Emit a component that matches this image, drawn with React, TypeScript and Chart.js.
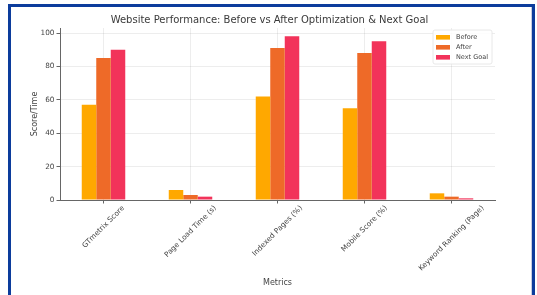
import React, { useEffect, useRef } from 'react';
import { Chart, registerables } from 'chart.js';

Chart.register(...registerables);

const categories = [
  'GTmetrix Score',
  'Page Load Time (s)',
  'Indexed Pages (%)',
  'Mobile Score (%)',
  'Keyword Ranking (Page)',
];
const beforeValues = [57, 6, 62, 55, 4];
const afterValues = [85, 3, 91, 88, 2];
const nextGoalValues = [90, 2, 98, 95, 1];
const seriesNames = ['Before', 'After', 'Next Goal'];
const seriesColors = ['#FFA800', '#EE6A28', '#F2335A'];
const yTickValues = [0, 20, 40, 60, 80, 100];
const titleText = 'Website Performance: Before vs After Optimization & Next Goal';
const yTitle = 'Score/Time';
const xTitle = 'Metrics';

const FONT = '"DejaVu Sans", sans-serif';

const overlayPlugin = {
  id: 'overlay',
  afterDraw(chart: any) {
    const ctx = chart.ctx as CanvasRenderingContext2D;
    const area = chart.chartArea;
    const xs = chart.scales.x;
    ctx.save();
    // title
    ctx.font = `10px ${FONT}`;
    ctx.fillStyle = '#3a3a3a';
    ctx.textAlign = 'center';
    ctx.textBaseline = 'middle';
    ctx.fillText(titleText, (area.left + area.right) / 2 - 8, area.top - 8);

    // rotated x tick labels (centered on tick like matplotlib)
    ctx.font = `7.3px ${FONT}`;
    ctx.fillStyle = '#444';
    (chart.data.labels as string[]).forEach((lab, i) => {
      const x = xs.getPixelForTick(i);
      const w = ctx.measureText(lab).width;
      const h = 8.5;
      const bh = (w + h) * Math.SQRT1_2;
      ctx.save();
      ctx.translate(x, area.bottom + 4 + bh / 2);
      ctx.rotate(-Math.PI / 4);
      ctx.fillText(lab, 0, 0);
      ctx.restore();
    });

    // legend inside upper right
    const bw = 59;
    const bhh = 34;
    const bx = area.right - 3 - bw;
    const by = area.top + 2;
    ctx.beginPath();
    const r = 2;
    ctx.moveTo(bx + r, by);
    ctx.lineTo(bx + bw - r, by);
    ctx.quadraticCurveTo(bx + bw, by, bx + bw, by + r);
    ctx.lineTo(bx + bw, by + bhh - r);
    ctx.quadraticCurveTo(bx + bw, by + bhh, bx + bw - r, by + bhh);
    ctx.lineTo(bx + r, by + bhh);
    ctx.quadraticCurveTo(bx, by + bhh, bx, by + bhh - r);
    ctx.lineTo(bx, by + r);
    ctx.quadraticCurveTo(bx, by, bx + r, by);
    ctx.closePath();
    ctx.fillStyle = 'rgba(255,255,255,0.85)';
    ctx.fill();
    ctx.strokeStyle = '#e2e2e2';
    ctx.lineWidth = 0.8;
    ctx.stroke();
    ctx.font = `6.5px ${FONT}`;
    ctx.textAlign = 'left';
    ctx.textBaseline = 'middle';
    chart.data.datasets.forEach((ds: any, i: number) => {
      const cy = by + 7.3 + i * 10;
      ctx.fillStyle = ds.backgroundColor;
      ctx.fillRect(bx + 3, cy - 2.3, 14, 4.6);
      ctx.fillStyle = '#444';
      ctx.fillText(ds.label, bx + 23, cy);
    });
    ctx.restore();
  },
};

export default function App() {
  const canvasRef = useRef<HTMLCanvasElement | null>(null);

  useEffect(() => {
    if (!canvasRef.current) return;
    const seriesValues = [beforeValues, afterValues, nextGoalValues];
    const chart = new Chart(canvasRef.current, {
      type: 'bar',
      data: {
        labels: categories,
        datasets: seriesNames.map((name, i) => ({
          label: name,
          data: seriesValues[i],
          backgroundColor: seriesColors[i],
          borderWidth: 0,
          categoryPercentage: 0.5,
          barPercentage: 1.0,
        })),
      },
      options: {
        responsive: false,
        animation: false,
        layout: { padding: { top: 28, right: 42, left: 0, bottom: 0 } },
        plugins: {
          legend: { display: false },
          title: { display: false },
          tooltip: { enabled: false },
        },
        scales: {
          x: {
            offset: true,
            grid: {
              offset: false,
              color: 'rgba(0,0,0,0.07)',
              tickColor: '#666',
              tickLength: 3.5,
            },
            border: { color: '#666', width: 1 },
            ticks: { display: false },
            title: {
              display: true,
              text: xTitle,
              font: { family: FONT, size: 8 },
              color: '#444',
              padding: { top: 0, bottom: 7 },
            },
            afterFit: (s: any) => {
              s.height = 95;
            },
          },
          y: {
            min: 0,
            max: 103,
            afterBuildTicks: (s: any) => {
              s.ticks = yTickValues.map((v) => ({ value: v }));
            },
            ticks: {
              font: { family: FONT, size: 7.3 },
              color: '#444',
              padding: 2,
            },
            grid: {
              color: 'rgba(0,0,0,0.07)',
              tickColor: '#666',
              tickLength: 3.5,
            },
            border: { color: '#666', width: 1 },
            title: {
              display: true,
              text: yTitle,
              font: { family: FONT, size: 8 },
              color: '#444',
              padding: { top: 30, bottom: 0 },
            },
            afterFit: (s: any) => {
              s.width = 60;
            },
          },
        },
      } as any,
      plugins: [overlayPlugin],
    });
    return () => chart.destroy();
  }, []);

  return (
    <div
      style={{
        position: 'absolute',
        left: 0,
        top: 0,
        width: 537,
        height: 295,
        overflow: 'hidden',
        background: '#fff',
      }}
    >
      <div
        style={{
          position: 'absolute',
          left: 8,
          top: 4,
          width: 527,
          height: 340,
          border: '3px solid #0c3c9c',
          boxSizing: 'border-box',
          boxShadow: 'inset -1px 0 0 #c5cde0',
        }}
      />
      <canvas
        ref={canvasRef}
        width={537}
        height={295}
        style={{ position: 'absolute', left: 0, top: 0, width: 537, height: 295, zIndex: 1 }}
      />
    </div>
  );
}
